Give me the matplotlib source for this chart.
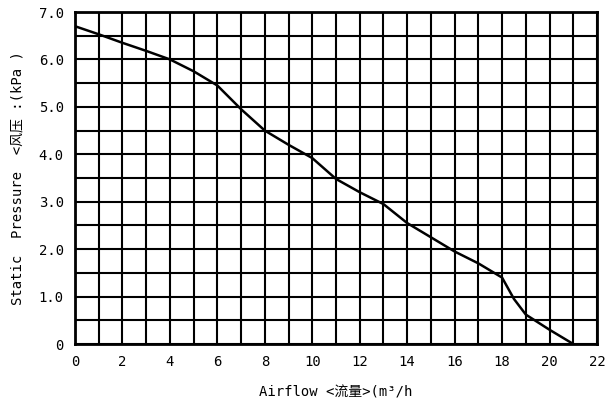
import numpy as np
import matplotlib
matplotlib.use('Agg')
from matplotlib import pyplot as plt

plt.rcParams['font.family'] = ['DejaVu Sans Mono', 'Noto Sans CJK SC']

airflow = [0, 1, 2, 3, 4, 5, 6, 7, 8, 9, 10, 11, 12, 13, 14, 15, 16, 17, 18, 18.5, 19, 20, 21]
pressure = [6.7, 6.53, 6.35, 6.18, 6.0, 5.75, 5.45, 4.95, 4.5, 4.2, 3.92, 3.48, 3.2, 2.95, 2.55, 2.25, 1.95, 1.7, 1.4, 0.95, 0.62, 0.3, 0.0]
x_ticks = list(range(0, 23, 2))
y_ticks = [0, 1, 2, 3, 4, 5, 6, 7]
y_labels = ['0', '1.0', '2.0', '3.0', '4.0', '5.0', '6.0', '7.0']

fig = plt.figure(figsize=(6.07, 4.18), dpi=100)
ax = fig.add_axes([75 / 607, 1 - 344 / 418, 522 / 607, 332 / 418])

ax.plot(airflow, pressure, color='black', lw=1.8)
ax.set_xlim(0, 22)
ax.set_ylim(0, 7)
ax.set_xticks(np.arange(0, 23, 1), minor=True)
ax.set_yticks(np.arange(0, 7.01, 0.5), minor=True)
ax.grid(which='both', color='black', lw=1.5)
ax.set_xticks(x_ticks)
ax.set_yticks(y_ticks)
ax.set_yticklabels(y_labels)
ax.tick_params(which='both', length=0, labelsize=10, pad=8)
for s in ax.spines.values():
  s.set_linewidth(2)

ax.set_xlabel('Airflow <流量>(m³/h', fontsize=10, labelpad=12)
ax.set_ylabel('Static  Pressure  <风压 :(kPa )', fontsize=10, labelpad=10)

fig.savefig('out.png', dpi=100)
